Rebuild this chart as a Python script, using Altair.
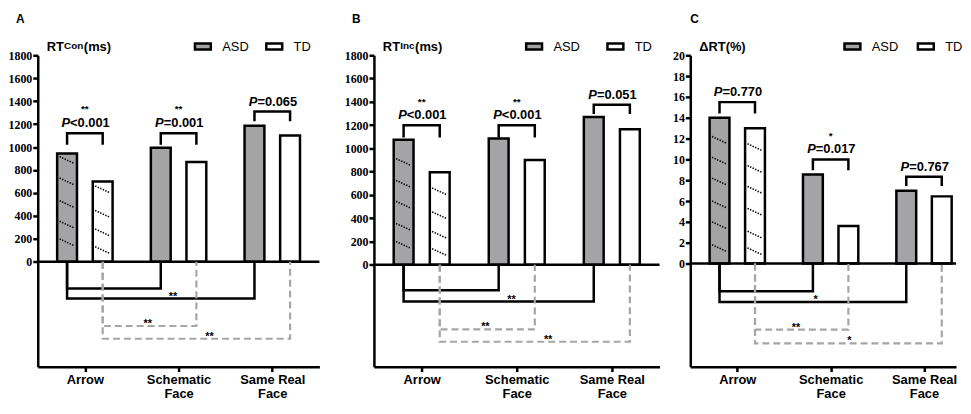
import json
import altair as alt
import pandas as pd

# ---------------- shared categories / groups ----------------
CATEGORIES = ["Arrow", "Schematic Face", "Same Real Face"]
CATEGORY_LINES = [["Arrow"], ["Schematic", "Face"], ["Same Real", "Face"]]
GROUPS = ["ASD", "TD"]
GROUP_FILLS = ["#a4a4a7", "#ffffff"]

# ---------------- Panel A : RT congruent (ms) ----------------
A_ASD = [945, 995, 1185]
A_TD = [700, 870, 1100]
A_TICKS = [0, 200, 400, 600, 800, 1000, 1200, 1400, 1600, 1800]
A_P = ["<0.001", "=0.001", "=0.065"]
A_STARS = ["**", "**", ""]
A_BRACKET_TOP = [1120, 1120, 1310]
A_BRACKET_BOTTOM = [1020, 1020, 1225]
A_LOWER_Y = [-232, -320, -559, -670]
A_LOWER_STARS = ["", "**", "**", "**"]
A_LOWER_STAR_X = [0.5, 0.94, 0.67, 1.33]
A_HATCH_ASD = [917, 730, 533, 354, 200]
A_HATCH_TD = [661, 448, 286, 132]

# ---------------- Panel B : RT incongruent (ms) ----------------
B_ASD = [1075, 1085, 1270]
B_TD = [795, 900, 1165]
B_TICKS = [0, 200, 400, 600, 800, 1000, 1200, 1400, 1600, 1800]
B_P = ["<0.001", "<0.001", "=0.051"]
B_STARS = ["**", "**", ""]
B_BRACKET_TOP = [1198, 1198, 1374]
B_BRACKET_BOTTOM = [1093, 1093, 1295]
B_LOWER_Y = [-219, -316, -555, -661]
B_LOWER_STARS = ["", "**", "**", "**"]
B_LOWER_STAR_X = [0.5, 0.945, 0.67, 1.33]
B_HATCH_ASD = [912, 725, 545, 355, 200]
B_HATCH_TD = [659, 454, 286, 138]

# ---------------- Panel C : delta RT (%) ----------------
C_ASD = [14.0, 8.55, 7.0]
C_TD = [13.0, 3.6, 6.45]
C_TICKS = [0, 2, 4, 6, 8, 10, 12, 14, 16, 18, 20]
C_P = ["=0.770", "=0.017", "=0.767"]
C_STARS = ["", "*", ""]
C_BRACKET_TOP = [15.5, 10.0, 8.33]
C_BRACKET_BOTTOM = [14.4, 8.96, 7.45]
C_LOWER_Y = [-2.65, -3.69, -6.35, -7.67]
C_LOWER_STARS = ["", "*", "**", "*"]
C_LOWER_STAR_X = [0.5, 0.84, 0.63, 1.20]
C_HATCH_ASD = [12.2, 10.2, 8.2, 6.0, 4.0, 1.8]
C_HATCH_TD = [11.5, 9.4, 7.4, 5.3, 3.1, 1.5]

OFF = 0.19          # half distance between the ASD and TD bar of a category
HATCH_HALF = 0.08   # half width of a hatch stroke
HEIGHT = 314
SANS = "Liberation Sans"
SERIF = "Liberation Serif"
LABEL_EXPR = json.dumps(CATEGORY_LINES) + "[datum.value]"

PANELS = [
    dict(letter="A", title=("RT", "Con", "(ms)"), sup_w=19.5, asd=A_ASD, td=A_TD, ticks=A_TICKS,
         ydom=[-913, 1800], xdom=[-0.45, 2.45], width=284, p=A_P, stars=A_STARS,
         btop=A_BRACKET_TOP, bbot=A_BRACKET_BOTTOM, low_y=A_LOWER_Y, low_s=A_LOWER_STARS,
         low_x=A_LOWER_STAR_X, h_asd=A_HATCH_ASD, h_td=A_HATCH_TD, letter_x=-22,
         leg_x=157, colpad=12),
    dict(letter="B", title=("RT", "Inc", "(ms)"), sup_w=14.5, asd=B_ASD, td=B_TD, ticks=B_TICKS,
         ydom=[-875, 1800], xdom=[-0.45, 2.45], width=288, p=B_P, stars=B_STARS,
         btop=B_BRACKET_TOP, bbot=B_BRACKET_BOTTOM, low_y=B_LOWER_Y, low_s=B_LOWER_STARS,
         low_x=B_LOWER_STAR_X, h_asd=B_HATCH_ASD, h_td=B_HATCH_TD, letter_x=-22,
         leg_x=152, colpad=22),
    dict(letter="C", title=("\u0394RT(%)", "", ""), sup_w=0, asd=C_ASD, td=C_TD, ticks=C_TICKS,
         ydom=[-9.9, 20], xdom=[-0.45, 2.29], width=268, p=C_P, stars=C_STARS,
         btop=C_BRACKET_TOP, bbot=C_BRACKET_BOTTOM, low_y=C_LOWER_Y, low_s=C_LOWER_STARS,
         low_x=C_LOWER_STAR_X, h_asd=C_HATCH_ASD, h_td=C_HATCH_TD, letter_x=0,
         leg_x=154, colpad=14),
]


def header_text(txt, x, y, size, weight="bold", align="left"):
    return alt.Chart(pd.DataFrame({"t": [txt]})).mark_text(
        font=SANS, fontSize=size, fontWeight=weight, align=align, baseline="alphabetic", color="black"
    ).encode(x=alt.value(x), y=alt.value(y), text="t:N")


def build_panel(cfg):
    xs = alt.Scale(domain=cfg["xdom"], nice=False, zero=False)
    ys = alt.Scale(domain=cfg["ydom"], nice=False, zero=False)
    xaxis = alt.Axis(values=[0, 1, 2], labelExpr=LABEL_EXPR, title=None, grid=False,
                     domainColor="black", domainWidth=2.5, tickColor="black", tickWidth=2.5,
                     tickSize=5, labelFont=SANS, labelFontSize=13, labelFontWeight="bold",
                     labelColor="black", labelPadding=2, labelLineHeight=14, labelFlush=False)
    yaxis = alt.Axis(values=cfg["ticks"], format="d", title=None, grid=False, domainColor="black",
                     domainWidth=2.5, tickColor="black", tickWidth=2.5, tickSize=5,
                     labelFont=SERIF, labelFontSize=12, labelFontWeight="bold",
                     labelColor="black", labelPadding=1, labelFlush=False)
    X = lambda f: alt.X(f, scale=xs, axis=xaxis)
    Y = lambda f: alt.Y(f, scale=ys, axis=yaxis)
    ppu = HEIGHT / (cfg["ydom"][1] - cfg["ydom"][0])  # pixels per y unit
    drop = 7 / ppu

    rows = []
    for g, vals in zip(GROUPS, [cfg["asd"], cfg["td"]]):
        for i, v in enumerate(vals):
            rows.append({"idx": i, "group": g, "value": v})
    bars_df = pd.DataFrame(rows)

    bars = alt.Chart(bars_df).transform_calculate(
        x=f"datum.idx + (datum.group == 'ASD' ? -{OFF} : {OFF})"
    ).mark_bar(size=20, stroke="black", strokeWidth=2.5).encode(
        x=X("x:Q"), y=Y("value:Q"),
        fill=alt.Fill("group:N", scale=alt.Scale(domain=GROUPS, range=GROUP_FILLS),
                      legend=alt.Legend(orient="none", legendX=cfg["leg_x"], legendY=-18.5,
                                        direction="horizontal", title=None,
                                        symbolType="M-1,-0.375H1V0.375H-1Z", symbolSize=256,
                                        symbolStrokeColor="black", symbolStrokeWidth=2.5,
                                        labelFont=SANS, labelFontSize=13, labelColor="black",
                                        labelOffset=10, columnPadding=cfg["colpad"], padding=0)),
    )

    hatch_rows = []
    for g, sign, vals in [("ASD", -1, cfg["h_asd"]), ("TD", 1, cfg["h_td"])]:
        c = sign * OFF
        for h in vals:
            hatch_rows.append({"x1": c - HATCH_HALF, "x2": c + HATCH_HALF, "y1": h, "y2": h - drop})
    hatch = alt.Chart(pd.DataFrame(hatch_rows)).mark_rule(
        color="black", strokeWidth=1.6, strokeDash=[1.4, 1.4]
    ).encode(x=X("x1:Q"), x2="x2:Q", y=Y("y1:Q"), y2="y2:Q")

    zero = alt.Chart(pd.DataFrame({"z": [0]})).mark_rule(color="black", strokeWidth=2.5).encode(
        y=Y("z:Q"))

    br_rows = []
    for i in range(3):
        pts = [(i - OFF, cfg["bbot"][i]), (i - OFF, cfg["btop"][i]),
               (i + OFF, cfg["btop"][i]), (i + OFF, cfg["bbot"][i])]
        for k, (x, y) in enumerate(pts):
            br_rows.append({"b": i, "k": k, "x": x, "y": y})
    upper = alt.Chart(pd.DataFrame(br_rows)).mark_line(color="black", strokeWidth=2.5).encode(
        x=X("x:Q"), y=Y("y:Q"), detail="b:N", order="k:Q")

    low_pairs = [(-OFF, 1 - OFF, "solid"), (-OFF, 2 - OFF, "solid"),
                 (OFF, 1 + OFF, "dashed"), (OFF, 2 + OFF, "dashed")]
    low_rows = []
    for j, ((x1, x2, sty), ly) in enumerate(zip(low_pairs, cfg["low_y"])):
        for k, (x, y) in enumerate([(x1, 0), (x1, ly), (x2, ly), (x2, 0)]):
            low_rows.append({"b": j, "k": k, "x": x, "y": y, "style": sty})
    low_df = pd.DataFrame(low_rows)
    lower_solid = alt.Chart(low_df[low_df["style"] == "solid"]).mark_line(
        color="black", strokeWidth=2.5).encode(x=X("x:Q"), y=Y("y:Q"), detail="b:N", order="k:Q")
    lower_dash = alt.Chart(low_df[low_df["style"] == "dashed"]).mark_line(
        color="#a6a6a6", strokeWidth=2.2, strokeDash=[7, 4]).encode(
        x=X("x:Q"), y=Y("y:Q"), detail="b:N", order="k:Q")

    ptxt_df = pd.DataFrame({"idx": [0, 1, 2], "top": cfg["btop"], "p": cfg["p"], "s": cfg["stars"]})
    p_letter = alt.Chart(ptxt_df).mark_text(
        font=SANS, fontSize=13, fontWeight="bold", fontStyle="italic", align="right",
        baseline="alphabetic", dx=-15, dy=-6, color="black"
    ).encode(x=X("idx:Q"), y=Y("top:Q"), text=alt.value("P"))
    p_rest = alt.Chart(ptxt_df).mark_text(
        font=SANS, fontSize=13, fontWeight="bold", align="left",
        baseline="alphabetic", dx=-15, dy=-6, color="black"
    ).encode(x=X("idx:Q"), y=Y("top:Q"), text="p:N")
    p_stars = alt.Chart(ptxt_df).mark_text(
        font=SANS, fontSize=10, fontWeight="bold", align="center",
        baseline="middle", dy=-24, color="black"
    ).encode(x=X("idx:Q"), y=Y("top:Q"), text="s:N")

    low_txt = pd.DataFrame({"x": cfg["low_x"], "y": cfg["low_y"], "s": cfg["low_s"]})
    low_stars = alt.Chart(low_txt).mark_text(
        font=SANS, fontSize=11, fontWeight="bold", align="center",
        baseline="alphabetic", dy=1, color="black"
    ).encode(x=X("x:Q"), y=Y("y:Q"), text="s:N")

    t_main, t_sup, t_rest = cfg["title"]
    headers = [header_text(cfg["letter"], cfg["letter_x"], -33, 12),
               header_text(t_main, 9, -4, 13)]
    if t_sup:
        headers.append(header_text(t_sup, 9 + 17.5, -6.5, 10))
        headers.append(header_text(t_rest, 9 + 17.5 + cfg["sup_w"] + 0.5, -4, 13))

    return alt.layer(bars, hatch, zero, upper, lower_solid, lower_dash,
                     p_letter, p_rest, p_stars, low_stars, *headers).properties(
        width=cfg["width"], height=HEIGHT)


pA, pB, pC = [build_panel(c) for c in PANELS]
left = alt.hconcat(pA, pB, spacing=23).resolve_scale(
    fill="independent", x="independent", y="independent").resolve_legend(fill="independent")
chart = alt.hconcat(left, pC, spacing=11).resolve_scale(
    fill="independent", x="independent", y="independent").resolve_legend(fill="independent")
chart = chart.configure_view(stroke=None).properties(
    padding={"left": 0, "top": 3, "right": 0, "bottom": 0})

chart.save("out.html", embed_options={"renderer": "svg", "actions": False})
